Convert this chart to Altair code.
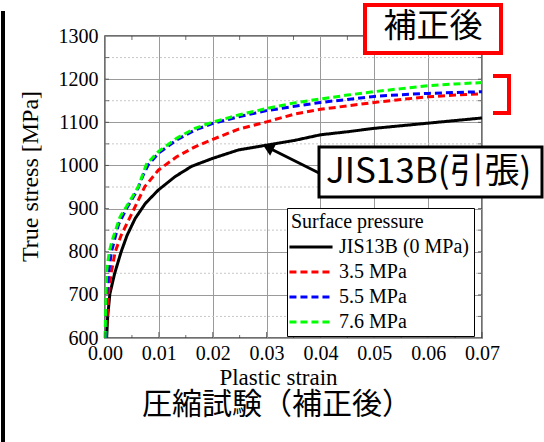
import altair as alt
import pandas as pd

# ---------------- data ----------------
series_names = ["JIS13B (0 MPa)", "3.5 MPa", "5.5 MPa", "7.6 MPa"]
series_colors = ["#000000", "#ff0000", "#0000ff", "#00ff00"]
series_dashes = [[1, 0], [7, 4], [7, 4], [7, 4]]

strain_jis = [0.0003, 0.0005, 0.0009, 0.0018, 0.0030, 0.0041, 0.0056, 0.0075, 0.0099, 0.0130,
              0.0161, 0.0199, 0.0248, 0.0300, 0.0352, 0.0400, 0.0450, 0.0500, 0.0550, 0.0600,
              0.0650, 0.0700]
stress_jis = [600, 650, 702, 750, 800, 838, 877, 912, 943, 974,
              998, 1016, 1036, 1047, 1058, 1071, 1078, 1086, 1092, 1098,
              1104, 1110]

strain_35 = [0.0002, 0.0004, 0.0006, 0.0012, 0.0019, 0.0030, 0.0050, 0.0074, 0.0099, 0.0133,
             0.0167, 0.0199, 0.0248, 0.0300, 0.0352, 0.0400, 0.0450, 0.0500, 0.0550, 0.0600,
             0.0650, 0.0700]
stress_35 = [600, 650, 700, 755, 800, 838, 889, 951, 989, 1020,
             1043, 1060, 1084, 1101, 1119, 1130, 1138, 1146, 1153, 1159,
             1163, 1166]

strain_55 = [0.0001, 0.0002, 0.0003, 0.0007, 0.0012, 0.0025, 0.0040, 0.0060, 0.0070, 0.0080,
             0.0099, 0.0133, 0.0167, 0.0199, 0.0248, 0.0300, 0.0352, 0.0400, 0.0450, 0.0500,
             0.0550, 0.0600, 0.0650, 0.0700]
stress_55 = [600, 650, 700, 755, 800, 863, 900, 943, 975, 1001,
             1028, 1059, 1082, 1097, 1113, 1127, 1137, 1146, 1153, 1160,
             1164, 1167, 1169, 1171]

strain_76 = [0.0000, 0.0001, 0.0003, 0.0008, 0.0013, 0.0028, 0.0045, 0.0062, 0.0077, 0.0099,
             0.0133, 0.0167, 0.0199, 0.0248, 0.0300, 0.0352, 0.0400, 0.0450, 0.0500, 0.0550,
             0.0600, 0.0650, 0.0700]
stress_76 = [600, 650, 755, 800, 825, 881, 915, 951, 1003, 1032,
             1063, 1086, 1100, 1117, 1132, 1145, 1154, 1163, 1171, 1178,
             1185, 1189, 1192]

x_ticks = [0.00, 0.01, 0.02, 0.03, 0.04, 0.05, 0.06, 0.07]
x_minor = [0.005, 0.015, 0.025, 0.035, 0.045, 0.055, 0.065]
y_ticks = [600, 700, 800, 900, 1000, 1100, 1200, 1300]
y_minor = [650, 750, 850, 950, 1050, 1150, 1250]
y_inner = [650, 700, 750, 800, 850, 900, 950, 1000, 1050, 1100, 1150, 1200, 1250]

rows = []
for name, xs, ys in zip(series_names,
                        [strain_jis, strain_35, strain_55, strain_76],
                        [stress_jis, stress_35, stress_55, stress_76]):
    for i, (xv, yv) in enumerate(zip(xs, ys)):
        rows.append({"series": name, "strain": xv, "stress": yv, "idx": i})
df = pd.DataFrame(rows)

W, H = 377, 302
SERIF = "Liberation Serif"
CJK = "Noto Sans CJK JP"

x_scale = alt.Scale(domain=[0, 0.07], nice=False, zero=False)
y_scale = alt.Scale(domain=[600, 1300], nice=False, zero=False)

leg = alt.Legend(
    title="Surface pressure", orient="none", legendX=182, legendY=172,
    fillColor="white", strokeColor="black", padding=4,
    symbolType="M-4,0H4", symbolSize=116, symbolStrokeWidth=3, symbolOffset=10,
    labelFont=SERIF, labelFontSize=20, labelColor="black", labelOffset=18, labelLimit=400,
    titleFont=SERIF, titleFontSize=20, titleFontWeight="normal", titleColor="black",
    titlePadding=5, rowPadding=5,
)

one = pd.DataFrame({"k": [0]})

x_axis = alt.Axis(
    values=x_ticks, format=".2f", labelFont=SERIF, labelFontSize=20, labelColor="black",
    ticks=False, domain=False, grid=True, gridColor="#9a9a9a", gridWidth=1,
    labelPadding=5, labelFlush=False, labelOverlap=False,
    title="Plastic strain", titleFont=SERIF, titleFontSize=23, titleFontWeight="normal",
    titleColor="black", titleX=173, titleY=46, titleBaseline="alphabetic", titleAlign="center")
y_axis = alt.Axis(
    values=y_ticks, format="d", labelFont=SERIF, labelFontSize=20, labelColor="black",
    ticks=False, domain=False, grid=True, gridColor="#9a9a9a", gridWidth=1,
    labelPadding=7, labelFlush=False, labelOverlap=False,
    title="True stress [MPa]", titleFont=SERIF, titleFontSize=24, titleFontWeight="normal",
    titleColor="black", titleX=-75, titleY=140, titleAngle=270, titleBaseline="middle",
    titleAlign="center")

minor_grid = alt.Chart(pd.DataFrame({"stress": y_minor})).mark_rule(
    color="#c8c8c8", strokeWidth=1, strokeDash=[2, 2]
).encode(y=alt.Y("stress:Q", scale=y_scale, axis=y_axis))

lines = alt.Chart(df).mark_line(strokeWidth=3, strokeCap="butt").encode(
    x=alt.X("strain:Q", scale=x_scale, axis=x_axis),
    y=alt.Y("stress:Q", scale=y_scale, axis=y_axis),
    color=alt.Color("series:N", scale=alt.Scale(domain=series_names, range=series_colors), legend=leg),
    strokeDash=alt.StrokeDash("series:N", scale=alt.Scale(domain=series_names, range=series_dashes), legend=leg),
    order=alt.Order("idx:Q"),
)

tick_color = "#333333"
bot_major = alt.Chart(pd.DataFrame({"strain": x_ticks})).mark_tick(
    orient="vertical", size=6, thickness=1, color=tick_color, yOffset=-3
).encode(x=alt.X("strain:Q", scale=x_scale, axis=x_axis), y=alt.value(H))
bot_minor = alt.Chart(pd.DataFrame({"strain": x_minor})).mark_tick(
    orient="vertical", size=3, thickness=1, color=tick_color, yOffset=-1.5
).encode(x=alt.X("strain:Q", scale=x_scale, axis=x_axis), y=alt.value(H))
top_minor = alt.Chart(pd.DataFrame({"strain": x_minor})).mark_tick(
    orient="vertical", size=4, thickness=1, color=tick_color, yOffset=2
).encode(x=alt.X("strain:Q", scale=x_scale, axis=x_axis), y=alt.value(0))
right_ticks = alt.Chart(pd.DataFrame({"stress": y_inner})).mark_tick(
    orient="horizontal", size=4, thickness=1, color=tick_color, xOffset=-2
).encode(y=alt.Y("stress:Q", scale=y_scale, axis=y_axis), x=alt.value(W))
left_ticks = alt.Chart(pd.DataFrame({"stress": y_inner})).mark_tick(
    orient="horizontal", size=4, thickness=1, color=tick_color, xOffset=2
).encode(y=alt.Y("stress:Q", scale=y_scale, axis=y_axis), x=alt.value(0))

# ---------------- annotations (pixel positions relative to plot origin) ----------------
corr_box = alt.Chart(one).mark_rect(fill="white", stroke="#ff0000", strokeWidth=4).encode(
    x=alt.value(260), x2=alt.value(396), y=alt.value(-31), y2=alt.value(17))
corr_text = alt.Chart(one).mark_text(
    text="補正後", font=CJK, fontSize=33, color="black", align="center", baseline="middle"
).encode(x=alt.value(328), y=alt.value(-9))

br_top = alt.Chart(one).mark_rule(color="#ff0000", strokeWidth=4).encode(
    x=alt.value(388), x2=alt.value(406), y=alt.value(40), y2=alt.value(40))
br_vert = alt.Chart(one).mark_rule(color="#ff0000", strokeWidth=4).encode(
    x=alt.value(404), x2=alt.value(404), y=alt.value(38), y2=alt.value(79))
br_bot = alt.Chart(one).mark_rule(color="#ff0000", strokeWidth=4).encode(
    x=alt.value(388), x2=alt.value(406), y=alt.value(77), y2=alt.value(77))

arrow_line = alt.Chart(one).mark_rule(color="black", strokeWidth=3).encode(
    x=alt.value(214), x2=alt.value(162), y=alt.value(137), y2=alt.value(111))
arrow_head = alt.Chart(one).mark_point(
    shape="triangle-up", filled=True, size=170, color="black", opacity=1, angle=296.6
).encode(x=alt.value(163), y=alt.value(111.5))

jis_box = alt.Chart(one).mark_rect(fill="white", stroke="black", strokeWidth=3).encode(
    x=alt.value(214), x2=alt.value(437), y=alt.value(111), y2=alt.value(161))
jis_text = alt.Chart(one).mark_text(
    text="JIS13B(引張)", font=CJK, fontSize=35, color="black", align="left", baseline="middle"
).encode(x=alt.value(221), y=alt.value(136))

left_border = alt.Chart(one).mark_rule(color="black", strokeWidth=4).encode(
    x=alt.value(-102), x2=alt.value(-102), y=alt.value(-25), y2=alt.value(420))

bottom_title = alt.Chart(one).mark_text(
    text="圧縮試験（補正後）", font=CJK, fontSize=30, color="black", align="center", baseline="middle"
).encode(x=alt.value(172), y=alt.value(369))

chart = alt.layer(
    minor_grid, lines, bot_major, bot_minor, top_minor, right_ticks, left_ticks,
    corr_box, corr_text, br_top, br_vert, br_bot, arrow_line, arrow_head, jis_box, jis_text,
    left_border, bottom_title,
).properties(
    width=W, height=H,
    padding={"left": 105, "top": 36, "right": 62, "bottom": 104},
    autosize=alt.AutoSizeParams(type="none"),
    background="white",
).configure_view(stroke="#404040", strokeWidth=1.5).configure_legend(
    labelFont=SERIF, titleFont=SERIF
)

chart.save("out.html", embed_options={"renderer": "svg", "actions": False})
